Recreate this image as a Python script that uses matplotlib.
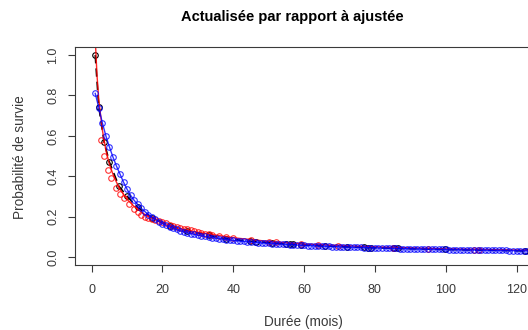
import matplotlib.pyplot as plt

# Courbe bleue (ajustée) : un point par mois
mois = list(range(1, 126))
survie_bleu = [0.81, 0.74, 0.665, 0.60, 0.545, 0.495, 0.45, 0.41, 0.37, 0.335,
               0.305, 0.28, 0.26, 0.24, 0.225, 0.21, 0.197, 0.186, 0.175, 0.165,
               0.157, 0.149, 0.142, 0.136, 0.130, 0.125, 0.120, 0.116, 0.112, 0.108,
               0.105, 0.102, 0.099, 0.096, 0.093, 0.091, 0.088, 0.086, 0.084, 0.082,
               0.080, 0.078, 0.077, 0.075, 0.074, 0.072, 0.071, 0.069, 0.068, 0.067,
               0.066, 0.065, 0.064, 0.063, 0.062, 0.061, 0.060, 0.059, 0.058, 0.057,
               0.056, 0.056, 0.055, 0.054, 0.053, 0.053, 0.052, 0.051, 0.051, 0.050,
               0.049, 0.049, 0.048, 0.048, 0.047, 0.047, 0.046, 0.046, 0.045, 0.045,
               0.044, 0.044, 0.043, 0.043, 0.042, 0.042, 0.041, 0.041, 0.041, 0.040,
               0.040, 0.039, 0.039, 0.039, 0.038, 0.038, 0.038, 0.037, 0.037, 0.037,
               0.036, 0.036, 0.036, 0.035, 0.035, 0.035, 0.034, 0.034, 0.034, 0.034,
               0.033, 0.033, 0.033, 0.032, 0.032, 0.032, 0.032, 0.031, 0.031, 0.031,
               0.031, 0.030, 0.030, 0.030, 0.030]

# Courbe rouge (modèle)
t_rouge = [1, 1.5, 2, 3, 4, 5, 6, 7, 8, 10, 12, 15, 20, 25, 30, 40, 50, 60, 80, 100, 125]
survie_rouge = [1.08, 0.90, 0.78, 0.63, 0.53, 0.46, 0.41, 0.37, 0.335, 0.285, 0.25,
                0.21, 0.17, 0.14, 0.122, 0.095, 0.077, 0.064, 0.05, 0.04, 0.033]

# Points rouges
t_pts_rouge = [2.6, 3.6, 4.5, 5.5, 6.9, 8, 9.2, 10.6, 12, 13, 14, 15, 16, 17, 18, 19,
               20, 21, 22, 23, 24, 25, 26, 27, 28, 29, 30, 31, 32, 33, 34, 36, 38, 40,
               45, 50, 52, 59, 64, 69.6, 85, 95, 108, 109.5]
pts_rouge = [0.58, 0.50, 0.43, 0.39, 0.34, 0.31, 0.29, 0.26, 0.235, 0.222, 0.21, 0.2,
             0.193, 0.187, 0.181, 0.177, 0.172, 0.166, 0.16, 0.154, 0.149, 0.145, 0.14,
             0.136, 0.132, 0.128, 0.124, 0.12, 0.116, 0.113, 0.11, 0.104, 0.099, 0.094,
             0.083, 0.075, 0.072, 0.064, 0.058, 0.053, 0.044, 0.039, 0.035, 0.034]

# Courbe noire (actualisée)
t_noir = [1, 2, 3.5, 5, 7.7, 10, 13, 17, 22, 27, 33, 38, 44.7, 46.5, 51, 55, 56, 57,
          59, 66, 72, 77, 78, 79, 85.5, 86.5, 99.8, 122.4]
survie_noir = [1.0, 0.745, 0.57, 0.47, 0.35, 0.30, 0.245, 0.195, 0.155, 0.13, 0.108,
               0.09, 0.078, 0.076, 0.07, 0.064, 0.063, 0.062, 0.06, 0.054, 0.05, 0.047,
               0.046, 0.046, 0.043, 0.042, 0.037, 0.03]

xticks = [0, 20, 40, 60, 80, 100, 120]
yticks = [0.0, 0.2, 0.4, 0.6, 0.8, 1.0]

plt.rcParams['font.family'] = ['Liberation Sans', 'DejaVu Sans']
gris = '#3a3a3a'

fig = plt.figure(figsize=(5.28, 3.30), dpi=100)
ax = fig.add_axes([74.7 / 528, 65 / 330, (533.5 - 74.7) / 528, 218 / 330])

ax.plot(t_noir, survie_noir, color='black', linestyle=(0, (5, 3)), linewidth=1.2,
        marker='o', markersize=4, markerfacecolor='none', markeredgewidth=0.8)
ax.plot(t_rouge, survie_rouge, color='red', linewidth=1.0, alpha=0.85)
ax.plot(t_pts_rouge, pts_rouge, linestyle='none', color='red', alpha=0.8,
        marker='o', markersize=4, markerfacecolor='none', markeredgewidth=0.8)
ax.plot(mois, survie_bleu, color='blue', linewidth=1.0, alpha=0.8,
        marker='o', markersize=4, markerfacecolor='none', markeredgewidth=0.8)

ax.set_xlim(-4.8, 124.8)
ax.set_ylim(-0.04, 1.04)
ax.set_xticks(xticks)
ax.set_xticklabels([str(v) for v in xticks])
ax.set_yticks(yticks)
ax.set_yticklabels(['%.1f' % v for v in yticks], rotation=90, va='center')
ax.tick_params(axis='both', direction='out', length=5, width=0.8, colors=gris,
               labelsize=9, labelcolor=gris)
ax.tick_params(axis='x', pad=9)
ax.tick_params(axis='y', pad=6)
for s in ax.spines.values():
    s.set_color(gris)
    s.set_linewidth(0.8)

fig.text(292 / 528, 1 - 17 / 330, 'Actualisée par rapport à ajustée', ha='center',
         va='center', fontsize=10.5, fontweight='bold', color='black')
fig.text(303 / 528, 1 - 322 / 330, 'Durée (mois)', ha='center', va='center',
         fontsize=9.8, color=gris)
fig.text(20 / 528, 1 - 157 / 330, 'Probabilité de survie', ha='center', va='center',
         rotation=90, fontsize=9.8, color=gris)

fig.savefig('out.png', dpi=100)
